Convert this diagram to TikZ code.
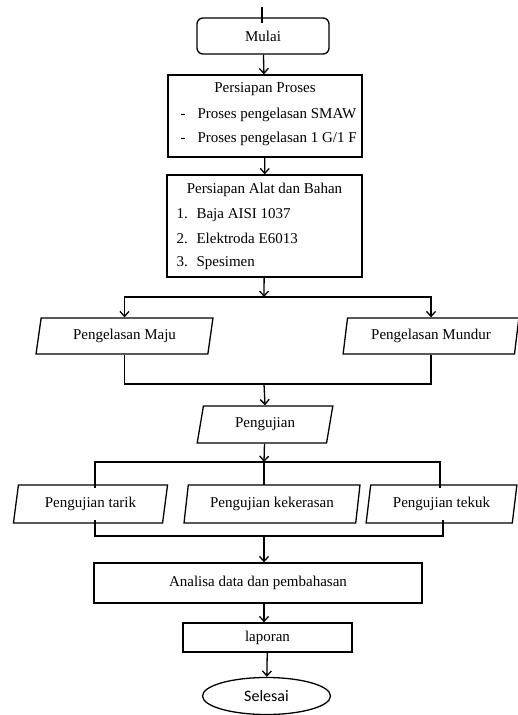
\documentclass[tikz,border=0pt]{standalone}
\usepackage{fontspec}
\setmainfont{Liberation Serif}
\newfontfamily\endfont{Carlito}
\usetikzlibrary{shapes.geometric,arrows.meta}

\tikzset{
    box/.style={draw,line width=1.3pt,inner sep=0pt},
    io/.style={draw,line width=1.3pt,inner sep=0pt,trapezium,
        trapezium left angle=77,trapezium right angle=103,
        trapezium stretches=true},
    line/.style={draw,line width=1.3pt},
}

\begin{document}
\begin{tikzpicture}[x=1pt,y=-1pt,font=\fontsize{15}{17}\selectfont,
    >={Straight Barb[length=5pt,width=9pt]}]
\useasboundingbox (0,0) rectangle (518,715);

% start and the two preparation blocks
\node[box,rounded corners=6pt,minimum width=132pt,minimum height=36pt] (mulai) at (263,36) {Mulai};
\node[box,minimum width=194pt,minimum height=82pt] (proses) at (265,116) {};
\node (prosesT) at (265,89) {Persiapan Proses};
\foreach \y/\t [count=\i] in {118/{Proses pengelasan SMAW},142/{Proses pengelasan 1 G/1 F}}{
    \node[anchor=base west] (dash\i) at (177,\y) {-};
    \node[anchor=base west] (proses\i) at (194,\y) {\t};
}
\node[box,minimum width=195pt,minimum height=102pt] (alat) at (264.5,226) {};
\node (alatT) at (264.5,190) {Persiapan Alat dan Bahan};
\foreach \y/\t [count=\i] in {218/Baja AISI 1037,243/Elektroda E6013,266/Spesimen}{
    \node[anchor=base west] (no\i) at (173,\y) {\i.};
    \node[anchor=base west] (alat\i) at (193,\y) {\t};
}

% welding
\node[io,minimum width=177pt,minimum height=36pt] (maju) at (124.5,336) {Pengelasan Maju};
\node[io,minimum width=176pt,minimum height=36pt] (mundur) at (431,336) {Pengelasan Mundur};

% testing
\node[io,minimum width=136pt,minimum height=37pt] (uji) at (265,424.5) {Pengujian};
\node[io,minimum width=155pt,minimum height=38pt] (tarik) at (90.5,504) {Pengujian tarik};
\node[io,minimum width=176pt,minimum height=38pt] (keras) at (272,504) {Pengujian kekerasan};
\node[io,minimum width=151pt,minimum height=38pt] (tekuk) at (441.5,504) {Pengujian tekuk};

% end
\node[box,minimum width=328pt,minimum height=40pt] (analisa) at (258,583) {Analisa data dan pembahasan};
\node[box,minimum width=169pt,minimum height=29pt] (lapor) at (267.5,637.5) {laporan};
\node[draw,line width=1.3pt,ellipse,minimum width=128pt,minimum height=37pt,font=\endfont\fontsize{16}{18}\selectfont] (selesai) at (266.5,696) {Selesai};

\coordinate (top) at (262,7);
\coordinate (topEnd) at (262,23);
\coordinate (split1) at (264,297);
\coordinate (join1) at (264,384);
\coordinate (split2) at (264,462);
\coordinate (tarikIn) at (95,488);
\coordinate (kerasIn) at (264,485);
\coordinate (tekukIn) at (440,488);
\coordinate (tarikOut) at (95,520);
\coordinate (tekukOut) at (443,520);
\coordinate (join2) at (264,536);

\path[line] (top) -- (topEnd);
\path[line,->] (mulai) -- (proses);
\path[line,->] (proses) -- (alat);
\path[line,->] (alat) -- (split1);
\path[line,->] (split1) -| (maju.north);
\path[line,->] (split1) -| (mundur.north);
\path[line] (maju.south) |- (join1);
\path[line] (mundur.south) |- (join1);
\path[line,->] (join1) -- (uji.north);
\path[line,->] (uji) -- (split2);
\path[line] (tarikIn) |- (split2) -| (tekukIn);
\path[line] (split2) -- (kerasIn);
\path[line] (tarikOut) |- (join2) -| (tekukOut);
\path[line,->] (join2) -- (join2 |- analisa.north);
\path[line,->] (join2 |- analisa.south) -- (join2 |- lapor.north);
\path[line,->] (lapor) -- (selesai);
\end{tikzpicture}
\end{document}
